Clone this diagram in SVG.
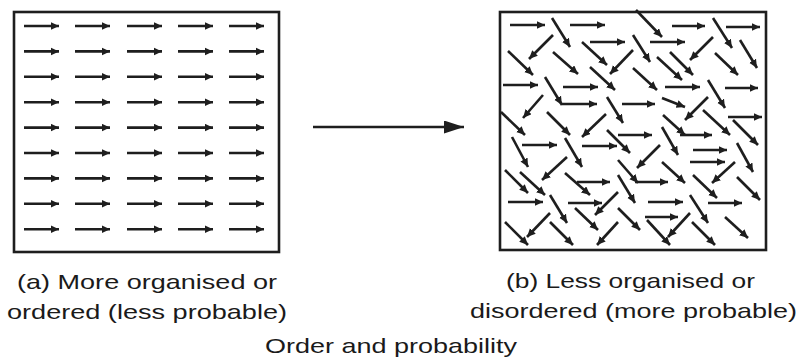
<svg xmlns="http://www.w3.org/2000/svg" width="799" height="362" viewBox="0 0 799 362">
<style>
.box{fill:none;stroke:#1e1e1e;stroke-width:2.6}
.a{stroke:#1e1e1e;stroke-width:2.6;fill:none;marker-end:url(#h)}
.big{stroke:#1e1e1e;stroke-width:2.6;fill:none;marker-end:url(#H)}
text{font-family:"Liberation Sans",Arial,sans-serif;font-size:21px;fill:#1a1a1a}
</style>
<defs>
<marker id="h" markerUnits="userSpaceOnUse" markerWidth="10" markerHeight="9" refX="8.5" refY="4" orient="auto"><path d="M0,0 L8.5,4 L0,8 z" fill="#1e1e1e"/></marker>
<marker id="H" markerUnits="userSpaceOnUse" markerWidth="22" markerHeight="14" refX="20" refY="6.5" orient="auto"><path d="M0,0 L20,6.5 L0,13 z" fill="#1e1e1e"/></marker>
<path id="r" class="a" d="M0,0h35"/>
</defs>
<rect width="799" height="362" fill="#fff"/>
<g id="panel-a">
<rect class="box" x="14" y="12" width="265" height="240"/>
<g id="ordered-arrows">
<use href="#r" x="24" y="26"/><use href="#r" x="75" y="26"/><use href="#r" x="127" y="26"/><use href="#r" x="178" y="26"/><use href="#r" x="229" y="26"/>
<use href="#r" x="24" y="51.4"/><use href="#r" x="75" y="51.4"/><use href="#r" x="127" y="51.4"/><use href="#r" x="178" y="51.4"/><use href="#r" x="229" y="51.4"/>
<use href="#r" x="24" y="76.8"/><use href="#r" x="75" y="76.8"/><use href="#r" x="127" y="76.8"/><use href="#r" x="178" y="76.8"/><use href="#r" x="229" y="76.8"/>
<use href="#r" x="24" y="102.2"/><use href="#r" x="75" y="102.2"/><use href="#r" x="127" y="102.2"/><use href="#r" x="178" y="102.2"/><use href="#r" x="229" y="102.2"/>
<use href="#r" x="24" y="127.6"/><use href="#r" x="75" y="127.6"/><use href="#r" x="127" y="127.6"/><use href="#r" x="178" y="127.6"/><use href="#r" x="229" y="127.6"/>
<use href="#r" x="24" y="153"/><use href="#r" x="75" y="153"/><use href="#r" x="127" y="153"/><use href="#r" x="178" y="153"/><use href="#r" x="229" y="153"/>
<use href="#r" x="24" y="178.4"/><use href="#r" x="75" y="178.4"/><use href="#r" x="127" y="178.4"/><use href="#r" x="178" y="178.4"/><use href="#r" x="229" y="178.4"/>
<use href="#r" x="24" y="203.8"/><use href="#r" x="75" y="203.8"/><use href="#r" x="127" y="203.8"/><use href="#r" x="178" y="203.8"/><use href="#r" x="229" y="203.8"/>
<use href="#r" x="24" y="229.2"/><use href="#r" x="75" y="229.2"/><use href="#r" x="127" y="229.2"/><use href="#r" x="178" y="229.2"/><use href="#r" x="229" y="229.2"/>
</g>
<text x="17" y="289" textLength="260" lengthAdjust="spacingAndGlyphs">(a) More organised or</text>
<text x="7" y="319" textLength="280" lengthAdjust="spacingAndGlyphs">ordered (less probable)</text>
</g>
<g id="panel-b">
<rect class="box" x="500" y="12" width="266" height="238"/>
<g id="disordered-arrows">
<path class="a" d="M510,25L545,25"/><path class="a" d="M552,18L570,47"/><path class="a" d="M570,25L605,25"/>
<path class="a" d="M553,35L529,59"/><path class="a" d="M590,42L625,42"/><path class="a" d="M636,10L662,37"/>
<path class="a" d="M633,35L650,62"/><path class="a" d="M508,51L533,75"/><path class="a" d="M553,52L578,74"/>
<path class="a" d="M582,42L607,65"/><path class="a" d="M633,50L610,74"/><path class="a" d="M503,85L538,85"/>
<path class="a" d="M545,77L562,105"/><path class="a" d="M563,87L598,87"/><path class="a" d="M590,67L615,90"/>
<path class="a" d="M562,104L597,104"/><path class="a" d="M543,95L523,118"/><path class="a" d="M607,97L623,123"/>
<path class="a" d="M622,104L655,104"/><path class="a" d="M501,112L525,135"/><path class="a" d="M547,112L570,135"/>
<path class="a" d="M606,114L582,137"/><path class="a" d="M633,68L657,90"/>
<path class="a" d="M672,26L705,26"/><path class="a" d="M713,18L732,48"/><path class="a" d="M726,27L760,27"/>
<path class="a" d="M650,42L685,42"/><path class="a" d="M713,37L690,60"/><path class="a" d="M740,40L757,68"/>
<path class="a" d="M670,52L693,75"/><path class="a" d="M657,57L682,80"/><path class="a" d="M715,53L738,75"/>
<path class="a" d="M665,87L700,87"/><path class="a" d="M708,80L725,108"/><path class="a" d="M725,88L758,88"/>
<path class="a" d="M662,98L685,107"/><path class="a" d="M708,97L685,120"/><path class="a" d="M728,117L762,117"/>
<path class="a" d="M663,115L685,135"/><path class="a" d="M680,135L712,135"/><path class="a" d="M703,110L730,135"/>
<path class="a" d="M733,120L758,145"/>
<path class="a" d="M662,127L678,155"/><path class="a" d="M693,150L727,150"/><path class="a" d="M690,162L725,162"/>
<path class="a" d="M737,143L753,172"/><path class="a" d="M660,145L637,168"/><path class="a" d="M662,162L685,183"/>
<path class="a" d="M635,182L668,182"/><path class="a" d="M735,162L712,183"/><path class="a" d="M693,175L717,198"/>
<path class="a" d="M737,177L760,200"/><path class="a" d="M648,202L683,202"/><path class="a" d="M690,195L708,223"/>
<path class="a" d="M708,203L742,203"/><path class="a" d="M645,217L678,217"/><path class="a" d="M690,213L668,237"/>
<path class="a" d="M647,220L670,245"/><path class="a" d="M692,222L715,245"/><path class="a" d="M725,217L748,238"/>
<path class="a" d="M607,130L630,153"/><path class="a" d="M618,135L652,135"/><path class="a" d="M512,137L528,167"/>
<path class="a" d="M522,145L557,145"/><path class="a" d="M565,138L582,167"/><path class="a" d="M582,146L617,146"/>
<path class="a" d="M567,157L542,180"/><path class="a" d="M505,170L528,193"/><path class="a" d="M520,172L545,195"/>
<path class="a" d="M565,173L590,195"/><path class="a" d="M577,182L610,182"/><path class="a" d="M618,160L638,183"/>
<path class="a" d="M618,175L635,203"/><path class="a" d="M508,202L543,202"/><path class="a" d="M550,195L567,223"/>
<path class="a" d="M568,203L602,203"/><path class="a" d="M618,192L595,215"/><path class="a" d="M575,208L598,230"/>
<path class="a" d="M618,208L640,230"/><path class="a" d="M505,222L528,245"/><path class="a" d="M550,213L527,237"/>
<path class="a" d="M550,222L573,245"/><path class="a" d="M618,222L597,245"/>
</g>
<text x="506" y="288" textLength="249" lengthAdjust="spacingAndGlyphs">(b) Less organised or</text>
<text x="470" y="318" textLength="327" lengthAdjust="spacingAndGlyphs">disordered (more probable)</text>
</g>
<g id="connectors">
<path class="big" d="M313,127L464,127"/>
</g>
<g id="caption">
<text x="265" y="353" textLength="252" lengthAdjust="spacingAndGlyphs">Order and probability</text>
</g>
</svg>
